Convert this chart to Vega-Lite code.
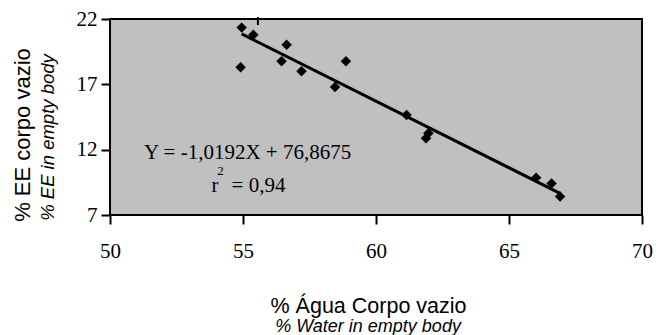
{
  "$schema": "https://vega.github.io/schema/vega-lite/v6.json",
  "width": 532,
  "height": 196,
  "autosize": "none",
  "padding": {"left": 110, "top": 19, "right": 20, "bottom": 120},
  "background": "white",
  "config": {"view": {"fill": "#c0c0c0", "stroke": "black", "strokeWidth": 2}},
  "datasets": {
    "points": [
      {"water": 54.95, "ee": 21.34},
      {"water": 55.39, "ee": 20.79},
      {"water": 54.91, "ee": 18.31},
      {"water": 56.64, "ee": 20.03},
      {"water": 56.45, "ee": 18.77},
      {"water": 57.2, "ee": 18.0},
      {"water": 58.46, "ee": 16.8},
      {"water": 58.87, "ee": 18.77},
      {"water": 61.15, "ee": 14.65},
      {"water": 61.88, "ee": 12.87},
      {"water": 61.97, "ee": 13.25},
      {"water": 66.02, "ee": 9.86},
      {"water": 66.6, "ee": 9.42},
      {"water": 66.92, "ee": 8.42}
    ],
    "trend": [
      {"water": 54.95, "ee": 20.86},
      {"water": 66.92, "ee": 8.66}
    ],
    "one": [{}]
  },
  "layer": [
    {
      "data": {"name": "points"},
      "mark": {"type": "point", "shape": "diamond", "filled": true, "color": "black", "size": 110, "opacity": 1},
      "encoding": {
        "x": {
          "field": "water", "type": "quantitative",
          "scale": {"domain": [50, 70], "nice": false, "zero": false},
          "axis": {
            "title": "% Água Corpo vazio",
            "titleFont": "Liberation Sans", "titleFontSize": 21.5, "titleFontWeight": "normal", "titleColor": "black",
            "titleX": 258, "titleY": 97, "titleAlign": "center", "titleBaseline": "alphabetic", "titleAnchor": null,
            "values": [50, 55, 60, 65, 70],
            "labelFont": "Liberation Serif", "labelFontSize": 21, "labelColor": "black",
            "labelPadding": 16, "labelFlush": false, "labelOverlap": false, "labelBound": false,
            "tickSize": 9, "tickWidth": 2, "tickColor": "black",
            "domain": false, "grid": false
          }
        },
        "y": {
          "field": "ee", "type": "quantitative",
          "scale": {"domain": [7, 22], "nice": false, "zero": false},
          "axis": {
            "title": "% EE in empty body",
            "titleFont": "Liberation Sans", "titleFontSize": 18.5, "titleFontStyle": "italic", "titleFontWeight": "normal", "titleColor": "black",
            "titleX": -63, "titleY": 118, "titleAngle": 270, "titleAlign": "center", "titleBaseline": "middle", "titleAnchor": null,
            "values": [7, 12, 17, 22],
            "labelFont": "Liberation Serif", "labelFontSize": 21, "labelColor": "black",
            "labelPadding": 4, "labelFlush": false, "labelOverlap": false, "labelBound": false,
            "tickSize": 9, "tickWidth": 2, "tickColor": "black",
            "domain": false, "grid": false
          }
        }
      }
    },
    {
      "data": {"name": "trend"},
      "mark": {"type": "line", "color": "black", "strokeWidth": 3},
      "encoding": {
        "x": {"field": "water", "type": "quantitative"},
        "y": {"field": "ee", "type": "quantitative"}
      }
    },
    {
      "data": {"name": "one"},
      "mark": {"type": "rule", "color": "black", "strokeWidth": 2},
      "encoding": {"x": {"datum": 55.56}, "y": {"datum": 22.15}, "y2": {"datum": 21.54}}
    },
    {
      "data": {"name": "one"},
      "mark": {"type": "text", "text": "Y = -1,0192X + 76,8675", "font": "Liberation Serif", "fontSize": 21, "color": "black", "align": "center", "baseline": "alphabetic"},
      "encoding": {"x": {"datum": 55.17}, "y": {"datum": 11.26}}
    },
    {
      "data": {"name": "one"},
      "mark": {"type": "text", "text": "r", "font": "Liberation Serif", "fontSize": 21, "color": "black", "align": "left", "baseline": "alphabetic"},
      "encoding": {"x": {"datum": 53.82}, "y": {"datum": 8.76}}
    },
    {
      "data": {"name": "one"},
      "mark": {"type": "text", "text": "= 0,94", "font": "Liberation Serif", "fontSize": 21, "color": "black", "align": "left", "baseline": "alphabetic"},
      "encoding": {"x": {"datum": 54.57}, "y": {"datum": 8.76}}
    },
    {
      "data": {"name": "one"},
      "mark": {"type": "text", "text": "2", "font": "Liberation Serif", "fontSize": 13, "color": "black", "align": "left", "baseline": "alphabetic"},
      "encoding": {"x": {"datum": 54.03}, "y": {"datum": 10.06}}
    },
    {
      "data": {"name": "one"},
      "mark": {"type": "text", "text": "% EE corpo vazio", "font": "Liberation Sans", "fontSize": 22, "color": "black", "align": "center", "baseline": "middle", "angle": 270},
      "encoding": {"x": {"datum": 46.73}, "y": {"datum": 13.12}}
    },
    {
      "data": {"name": "one"},
      "mark": {"type": "text", "text": "% Water in empty body", "font": "Liberation Sans", "fontSize": 18, "fontStyle": "italic", "color": "black", "align": "center", "baseline": "alphabetic"},
      "encoding": {"x": {"datum": 59.7}, "y": {"datum": -1.92}}
    }
  ]
}
